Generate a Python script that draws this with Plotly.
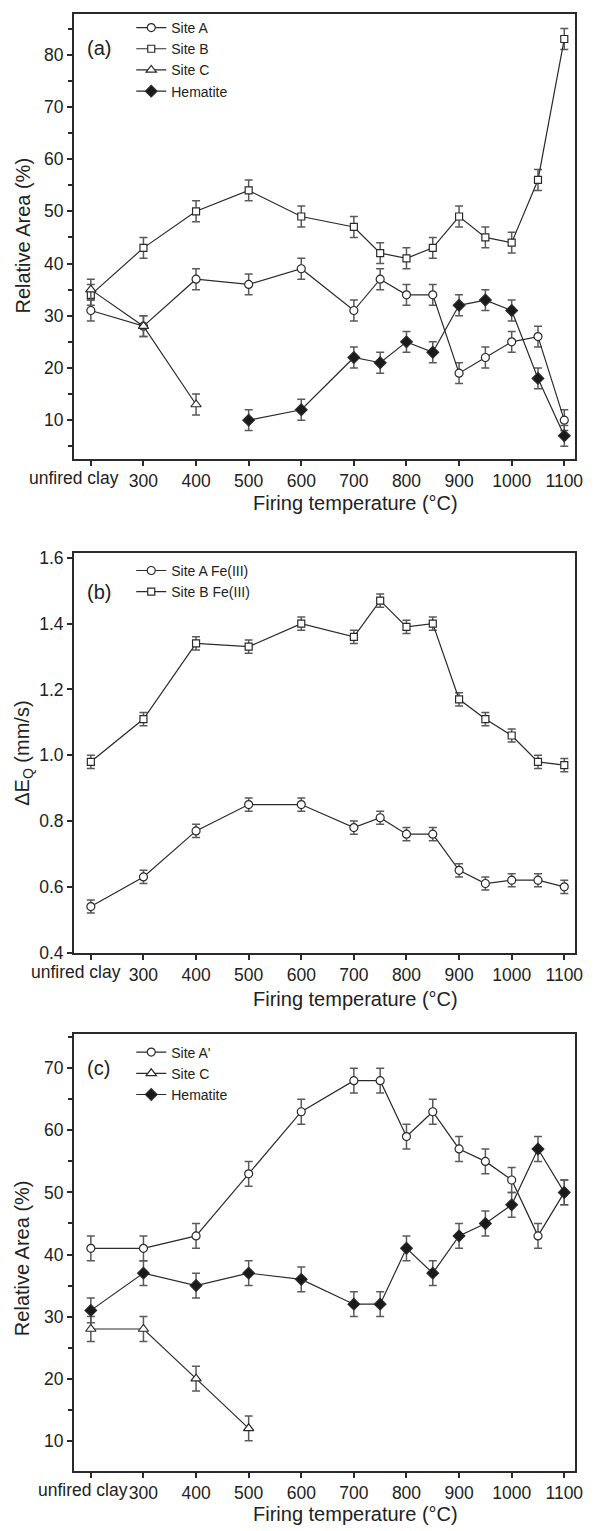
import plotly.graph_objects as go

# ---------------- data ----------------
temps = [200, 300, 400, 500, 600, 700, 750, 800, 850, 900, 950, 1000, 1050, 1100]
tick_vals = [200, 300, 400, 500, 600, 700, 800, 900, 1000, 1100]
tick_text = ["", "300", "400", "500", "600", "700", "800", "900", "1000", "1100"]
first_label = "unfired clay"

# panel (a)
a_site_a = [31, 28, 37, 36, 39, 31, 37, 34, 34, 19, 22, 25, 26, 10]
a_site_b = [34, 43, 50, 54, 49, 47, 42, 41, 43, 49, 45, 44, 56, 83]
a_site_c_t = [200, 300, 400]
a_site_c = [35, 28, 13]
a_hem_t = [500, 600, 700, 750, 800, 850, 900, 950, 1000, 1050, 1100]
a_hem = [10, 12, 22, 21, 25, 23, 32, 33, 31, 18, 7]
a_err = 2

# panel (b)
b_site_a = [0.54, 0.63, 0.77, 0.85, 0.85, 0.78, 0.81, 0.76, 0.76, 0.65, 0.61, 0.62, 0.62, 0.60]
b_site_b = [0.98, 1.11, 1.34, 1.33, 1.40, 1.36, 1.47, 1.39, 1.40, 1.17, 1.11, 1.06, 0.98, 0.97]
b_err = 0.02

# panel (c)
c_site_a = [41, 41, 43, 53, 63, 68, 68, 59, 63, 57, 55, 52, 43, 50]
c_site_c_t = [200, 300, 400, 500]
c_site_c = [28, 28, 20, 12]
c_hem = [31, 37, 35, 37, 36, 32, 32, 41, 37, 43, 45, 48, 57, 50]
c_err = 2

# ---------------- geometry ----------------
W, H = 608, 1531
def px(x):
    return x / W
def py(y):
    return 1 - y / H

LINE = "#2a2a2a"
ERR = "#5a5a5a"
FONT = "Liberation Sans, Arial, sans-serif"

fig = go.Figure()

def add(x, y, err, name, symbol, size, fill, xa, ya, legend):
    fig.add_trace(go.Scatter(
        x=x, y=y, name=name, mode="lines+markers",
        line=dict(color=LINE, width=1.2),
        marker=dict(symbol=symbol, size=size, color=fill,
                    line=dict(color=LINE, width=1.2)),
        error_y=dict(type="constant", value=err, color=ERR, thickness=1.5, width=4),
        xaxis=xa, yaxis=ya, legend=legend,
    ))

add(temps, a_site_a, a_err, "Site A", "circle", 8, "white", "x", "y", "legend")
add(temps, a_site_b, a_err, "Site B", "square", 7, "white", "x", "y", "legend")
add(a_site_c_t, a_site_c, a_err, "Site C", "triangle-up", 9, "white", "x", "y", "legend")
add(a_hem_t, a_hem, a_err, "Hematite", "diamond", 9, "#1a1a1a", "x", "y", "legend")

add(temps, b_site_a, b_err, "Site A Fe(III)", "circle", 8, "white", "x2", "y2", "legend2")
add(temps, b_site_b, b_err, "Site B Fe(III)", "square", 7, "white", "x2", "y2", "legend2")

add(temps, c_site_a, c_err, "Site A'", "circle", 8, "white", "x3", "y3", "legend3")
add(c_site_c_t, c_site_c, c_err, "Site C", "triangle-up", 9, "white", "x3", "y3", "legend3")
add(temps, c_hem, c_err, "Hematite", "diamond", 9, "#1a1a1a", "x3", "y3", "legend3")

xdom = [px(75), px(583)]
doms = {
    "a": [py(458), py(9)],
    "b": [py(957), py(553)],
    "c": [py(1480), py(1038)],
}

def xaxis(anchor):
    return dict(domain=xdom, anchor=anchor, range=[168, 1121],
                tickmode="array", tickvals=tick_vals, ticktext=tick_text,
                tickangle=0,
                ticks="outside", ticklen=5, tickwidth=1.5, tickcolor=LINE,
                showline=True, linecolor=LINE, linewidth=2, mirror=True,
                showgrid=False, zeroline=False,
                tickfont=dict(family=FONT, size=17.5, color="#222"))

def yaxis(anchor, dom, rng, dtick, minor):
    d = dict(domain=dom, anchor=anchor, range=rng, dtick=dtick,
             ticks="outside", ticklen=5, tickwidth=1.5, tickcolor=LINE,
             showline=True, linecolor=LINE, linewidth=2, mirror=True,
             showgrid=False, zeroline=False,
             tickfont=dict(family=FONT, size=17.5, color="#222"))
    if minor:
        d["minor"] = dict(dtick=minor, ticks="outside", ticklen=4,
                          tickwidth=1.5, tickcolor=LINE, showgrid=False)
    return d

fig.update_layout(
    width=W, height=H,
    margin=dict(l=0, r=0, t=0, b=0),
    paper_bgcolor="white", plot_bgcolor="white",
    font=dict(family=FONT, color="#222"),
    xaxis=xaxis("y"),
    xaxis2=xaxis("y2"),
    xaxis3=xaxis("y3"),
    yaxis=yaxis("x", doms["a"], [2.6, 87.8], 10, 5),
    yaxis2=yaxis("x2", doms["b"], [0.398, 1.615], 0.2, None),
    yaxis3=yaxis("x3", doms["c"], [5.05, 75.6], 10, 5),
)
fig.layout.yaxis2.tickformat = ".1f"

leg = dict(xref="paper", yref="paper", xanchor="left", yanchor="top",
           bgcolor="rgba(0,0,0,0)", borderwidth=0,
           font=dict(family=FONT, size=14, color="#222"),
           tracegroupgap=0, itemclick=False)
fig.update_layout(
    legend=dict(leg, x=px(133), y=py(7)),
    legend2=dict(leg, x=px(133), y=py(555)),
    legend3=dict(leg, x=px(133), y=py(1041)),
)

ann = []
def text(x, y, s, size=20, angle=0, xanchor="center"):
    ann.append(dict(x=px(x), y=py(y), xref="paper", yref="paper", text=s,
                    showarrow=False, textangle=angle, xanchor=xanchor, yanchor="middle",
                    font=dict(family=FONT, size=size, color="#222")))

text(100, 43, "(a)")
text(100, 592, "(b)")
text(100, 1073, "(c)")
for yy in (503, 1003, 1523):
    text(466, yy, "Firing temperature (°C)", xanchor="right")
text(23, 233, "Relative Area (%)", angle=-90)
text(23, 755, "ΔE<sub>Q</sub> (mm/s)", angle=-90)
text(23, 1265, "Relative Area (%)", angle=-90)
# first category label of each x axis, set left of its tick like in the original
text(75, 477, first_label, size=17.5)
text(77, 976, first_label, size=17.5)
text(84, 1499, first_label, size=17.5)
fig.update_layout(annotations=ann)

fig.write_html("out.html")
